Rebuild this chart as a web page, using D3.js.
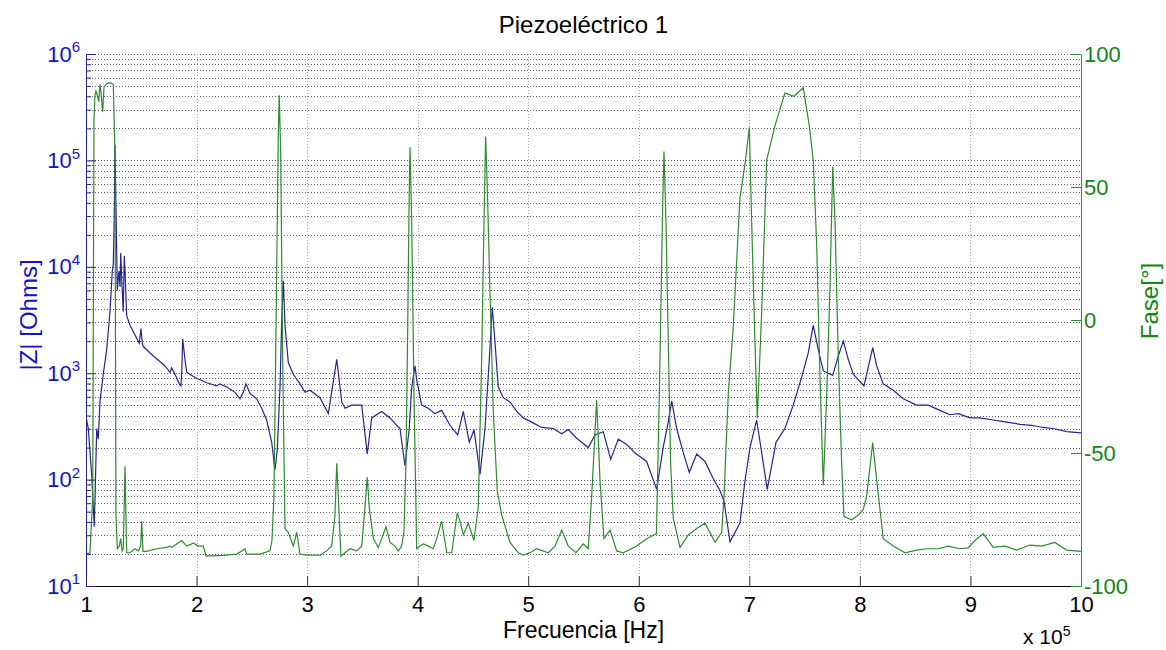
<!DOCTYPE html>
<html>
<head>
<meta charset="utf-8">
<script src="https://cdn.jsdelivr.net/npm/d3@7"></script>
<style>
  body { margin: 0; background: #fff; }
  svg text { font-family: "Liberation Sans", Arial, sans-serif; }
</style>
</head>
<body>
<svg id="chart" width="1166" height="650"></svg>
<script>
// frequency in units of 1e5 Hz (axis shows "x 10^5")
var zFreq = [1.000,1.021,1.052,1.075,1.097,1.111,1.127,1.156,1.187,1.217,1.238,1.247,1.256,1.262,1.271,1.283,1.298,1.308,1.314,1.326,
  1.337,1.346,1.353,1.368,1.398,1.443,1.482,1.497,1.509,1.518,1.609,1.715,1.760,1.775,1.805,1.844,1.859,1.866,1.875,1.895,
  1.911,1.986,2.092,2.182,2.212,2.273,2.348,2.393,2.423,2.447,2.483,2.544,2.589,2.634,2.680,2.709,2.730,2.755,2.770,2.785,
  2.800,2.830,2.875,2.936,2.981,3.026,3.116,3.192,3.268,3.313,3.343,3.403,3.494,3.544,3.584,3.675,3.750,3.810,3.840,3.885,
  3.924,3.946,3.976,3.991,4.036,4.096,4.157,4.217,4.292,4.362,4.413,4.467,4.510,4.564,4.609,4.648,4.675,4.700,4.729,4.774,
  4.835,4.896,4.955,5.031,5.122,5.227,5.303,5.362,5.438,5.543,5.604,5.679,5.746,5.815,5.891,5.966,6.071,6.162,6.222,6.267,
  6.298,6.343,6.403,6.457,6.524,6.599,6.674,6.734,6.771,6.825,6.915,6.961,7.006,7.066,7.112,7.162,7.202,7.241,7.322,7.397,
  7.473,7.533,7.578,7.624,7.669,7.754,7.805,7.850,7.895,7.940,8.037,8.116,8.152,8.211,8.302,8.392,8.513,8.618,8.724,8.815,
  8.890,8.996,9.086,9.206,9.328,9.448,9.554,9.659,9.749,9.870,10.000];
var zOhms = [389,302,107,36,302,240,550,977,1660,3800,9120,10700,30200,140000,38000,6030,9120,6460,13500,6460,
  3800,12600,9120,3470,2820,2290,1910,2630,1910,1780,1450,1170,1020,1120,977,794,759,1050,2090,1350,
  1020,912,813,759,794,741,661,575,661,794,646,575,468,363,224,123,191,741,3020,7410,
  2820,1260,977,794,661,692,589,417,1350,537,468,501,501,174,380,437,380,324,302,135,
  302,741,1170,871,501,468,417,447,324,263,437,224,295,112,302,1350,4170,1910,741,589,
  537,437,380,347,309,302,269,295,245,200,263,282,155,240,214,178,148,81,204,347,
  550,302,178,117,174,148,102,79,63,26,39,98,200,363,178,81,135,224,302,501,
  912,1550,2820,1660,1050,955,1450,2000,1350,977,759,1740,1170,794,692,575,501,501,447,407,
  417,380,380,363,347,331,324,309,302,282,275];

var phFreq = [1.000,1.036,1.061,1.066,1.072,1.081,1.090,1.102,1.115,1.127,1.138,1.151,1.163,1.187,1.217,1.247,1.262,1.271,1.283,1.301,
  1.314,1.326,1.337,1.353,1.368,1.398,1.443,1.473,1.495,1.504,1.516,1.549,1.639,1.730,1.760,1.775,1.820,1.866,1.911,1.971,
  2.016,2.061,2.085,2.151,2.242,2.363,2.408,2.438,2.453,2.574,2.664,2.682,2.700,2.719,2.739,2.748,2.761,2.779,2.800,2.830,
  2.875,2.906,2.936,2.996,3.116,3.177,3.222,3.252,3.268,3.282,3.306,3.343,3.388,3.448,3.494,3.523,3.544,3.562,3.599,3.644,
  3.675,3.713,3.750,3.795,3.825,3.855,3.876,3.894,3.910,3.924,3.931,3.946,3.967,3.991,4.021,4.051,4.096,4.141,4.172,4.217,
  4.263,4.308,4.358,4.383,4.413,4.458,4.509,4.548,4.579,4.600,4.615,4.630,4.654,4.684,4.720,4.760,4.835,4.910,4.955,5.016,
  5.076,5.181,5.242,5.303,5.362,5.432,5.498,5.543,5.574,5.619,5.649,5.685,5.740,5.800,5.860,5.981,6.071,6.160,6.192,6.216,
  6.228,6.246,6.267,6.288,6.312,6.373,6.448,6.524,6.599,6.690,6.750,6.771,6.809,6.855,6.915,6.961,7.000,7.021,7.051,7.072,
  7.112,7.157,7.232,7.322,7.404,7.488,7.542,7.578,7.609,7.639,7.669,7.700,7.729,7.754,7.775,7.805,7.835,7.856,7.926,7.985,
  8.030,8.061,8.116,8.152,8.211,8.302,8.408,8.513,8.604,8.709,8.799,8.905,8.980,9.041,9.116,9.206,9.312,9.418,9.538,9.644,
  9.764,9.870,10.000];
var phDeg = [-88.0,-87.5,-66.3,-2.3,75.2,84.5,86.1,84.5,82.1,88.6,84.5,78.3,87.6,88.8,89.2,88.6,62.8,-73.3,-86.0,-85.0,
  -82.2,-86.8,-86.0,-55.0,-87.5,-87.5,-86.0,-86.8,-85.0,-75.6,-87.0,-87.0,-86.0,-85.5,-85.0,-85.5,-84.2,-82.9,-85.0,-83.9,
  -85.0,-85.0,-88.7,-88.7,-88.5,-88.0,-86.8,-86.0,-88.0,-88.0,-86.8,-82.9,-66.3,-2.3,69.0,84.5,62.8,-14.7,-78.4,-79.8,
  -85.0,-79.8,-88.0,-88.4,-88.4,-86.8,-85.0,-73.3,-53.9,-66.3,-88.7,-87.5,-86.0,-86.8,-85.0,-70.5,-59.1,-70.5,-82.2,-85.5,
  -82.2,-77.7,-83.6,-85.0,-86.8,-85.0,-79.8,-53.9,-2.3,49.4,64.9,37.0,-28.1,-86.0,-85.0,-84.2,-85.0,-86.0,-82.2,-75.6,
  -87.5,-87.5,-72.5,-75.6,-80.8,-76.4,-82.9,-70.5,-14.7,37.0,69.0,49.4,11.2,-34.3,-64.3,-73.3,-83.6,-87.5,-88.4,-87.5,
  -86.0,-87.5,-85.0,-79.0,-85.0,-87.5,-84.2,-86.0,-66.3,-30.2,-60.1,-82.2,-79.0,-86.8,-87.5,-85.0,-82.2,-80.3,-14.7,43.2,
  63.3,37.0,-8.5,-53.9,-74.6,-85.5,-80.8,-78.4,-76.4,-83.6,-79.8,-66.3,-28.1,-2.3,45.9,58.7,72.4,37.0,-8.5,-37.0,
  3.2,60.1,73.1,85.3,84.1,87.3,73.1,60.1,28.7,-21.4,-62.2,-28.1,11.2,57.6,37.0,-14.7,-53.9,-73.9,-75.1,-73.3,
  -71.3,-66.3,-46.1,-60.1,-82.2,-85.0,-87.5,-86.5,-86.0,-86.0,-85.0,-86.0,-85.7,-82.9,-80.3,-85.5,-85.0,-86.5,-84.6,-85.0,
  -83.6,-86.5,-87.0];

var xTicks = [1,2,3,4,5,6,7,8,9,10];
var zTicks = [1e1,1e2,1e3,1e4,1e5,1e6];
var zExp = ['1','2','3','4','5','6'];
var phTicks = [-100,-50,0,50,100];

var titleText = 'Piezoeléctrico 1';
var xLabel = 'Frecuencia [Hz]';
var zLabel = '|Z| [Ohms]';
var phLabel = 'Fase[°]';

var blueLine = '#25258f', blueText = '#1414c4';
var greenLine = '#2e8b2e', greenText = '#138613';

var svg = d3.select('#chart'),
    margin = {top: 54, right: 85, bottom: 64, left: 86},
    width = 1166 - margin.left - margin.right,
    height = 650 - margin.top - margin.bottom,
    g = svg.append('g').attr('transform', 'translate(' + margin.left + ',' + margin.top + ')');

svg.insert('rect', ':first-child').attr('width', 1166).attr('height', 650).attr('fill', '#fff');

var x = d3.scaleLinear().domain([1, 10]).range([0, width]);
var yZ = d3.scaleLog().domain([10, 1e6]).range([height, 0]);
var yP = d3.scaleLinear().domain([-100, 100]).range([height, 0]);

// minor log values 2..9 per decade
var zMinor = [];
for (var e = 1; e < 6; e++) {
  for (var m = 2; m <= 9; m++) zMinor.push(m * Math.pow(10, e));
}

// grid
g.append('g').selectAll('line')
  .data(zTicks.concat(zMinor))
  .enter().append('line')
  .attr('x1', 0).attr('x2', width)
  .attr('y1', function(d) { return Math.round(yZ(d)) + 0.5; })
  .attr('y2', function(d) { return Math.round(yZ(d)) + 0.5; })
  .attr('stroke', '#5c5c80')
  .attr('stroke-width', 1)
  .attr('stroke-dasharray', '1,2');

g.append('g').selectAll('line')
  .data(xTicks.slice(1, -1))
  .enter().append('line')
  .attr('y1', 0).attr('y2', height)
  .attr('x1', function(d) { return Math.round(x(d)) + 0.5; })
  .attr('x2', function(d) { return Math.round(x(d)) + 0.5; })
  .attr('stroke', '#a8a8a8')
  .attr('stroke-width', 1)
  .attr('stroke-dasharray', '1,2');

g.append('clipPath').attr('id', 'clip')
  .append('rect').attr('width', width).attr('height', height);

var zData = zFreq.map(function(f, i) { return [f, zOhms[i]]; });
var phData = phFreq.map(function(f, i) { return [f, phDeg[i]]; });

g.append('path')
  .datum(zData)
  .attr('clip-path', 'url(#clip)')
  .attr('fill', 'none')
  .attr('stroke', blueLine)
  .attr('stroke-width', 1.2)
  .attr('d', d3.line().x(function(d) { return x(d[0]); }).y(function(d) { return yZ(d[1]); }));

g.append('path')
  .datum(phData)
  .attr('clip-path', 'url(#clip)')
  .attr('fill', 'none')
  .attr('stroke', greenLine)
  .attr('stroke-width', 1.2)
  .attr('d', d3.line().x(function(d) { return x(d[0]); }).y(function(d) { return yP(d[1]); }));

// bottom axis
var xAxis = g.append('g')
  .attr('transform', 'translate(0,' + height + ')')
  .call(d3.axisBottom(x).tickValues(xTicks).tickSize(-10).tickSizeOuter(0).tickPadding(10)
    .tickFormat(function(d) { return String(d); }));
xAxis.select('.domain').attr('stroke', '#000');
xAxis.selectAll('.tick line').attr('stroke', '#333');
xAxis.selectAll('text').attr('font-size', 22).attr('fill', '#000');

// left axis, minor ticks
var zMinorAxis = g.append('g')
  .call(d3.axisLeft(yZ).tickValues(zMinor).tickSize(-5).tickSizeOuter(0).tickFormat(''));
zMinorAxis.select('.domain').remove();
zMinorAxis.selectAll('.tick line').attr('stroke', blueLine);

var zAxis = g.append('g')
  .call(d3.axisLeft(yZ).tickValues(zTicks).tickSize(-10).tickSizeOuter(0).tickPadding(6).tickFormat(''));
zAxis.select('.domain').attr('stroke', blueLine);
zAxis.selectAll('.tick line').attr('stroke', blueLine);
zAxis.selectAll('.tick text')
  .attr('font-size', 22)
  .attr('fill', blueText)
  .each(function(d, i) {
    var t = d3.select(this);
    t.append('tspan').text('10');
    t.append('tspan').attr('dy', '-0.62em').attr('font-size', 15).text(zExp[i]);
  });

// right axis
var pAxis = g.append('g')
  .attr('transform', 'translate(' + width + ',0)')
  .call(d3.axisRight(yP).tickValues(phTicks).tickSize(-10).tickSizeOuter(0).tickPadding(3)
    .tickFormat(function(d) { return String(d); }));
pAxis.select('.domain').attr('stroke', greenLine);
pAxis.selectAll('.tick line').attr('stroke', greenLine);
pAxis.selectAll('text').attr('font-size', 22).attr('fill', greenText);

// texts
svg.append('text')
  .attr('x', margin.left + width / 2).attr('y', 33)
  .attr('text-anchor', 'middle').attr('font-size', 24).attr('fill', '#000')
  .text(titleText);

svg.append('text')
  .attr('x', margin.left + width / 2).attr('y', 638)
  .attr('text-anchor', 'middle').attr('font-size', 23).attr('fill', '#000')
  .text(xLabel);

svg.append('text')
  .attr('transform', 'translate(37,315) rotate(-90)')
  .attr('text-anchor', 'middle').attr('font-size', 24).attr('fill', blueText)
  .text(zLabel);

svg.append('text')
  .attr('transform', 'translate(1158,301) rotate(-90)')
  .attr('text-anchor', 'middle').attr('font-size', 24).attr('fill', greenText)
  .text(phLabel);

var mult = svg.append('text')
  .attr('x', 1023).attr('y', 644).attr('font-size', 21).attr('fill', '#000');
mult.append('tspan').text('x 10');
mult.append('tspan').attr('dy', '-0.55em').attr('font-size', 14).text('5');
</script>
</body>
</html>
